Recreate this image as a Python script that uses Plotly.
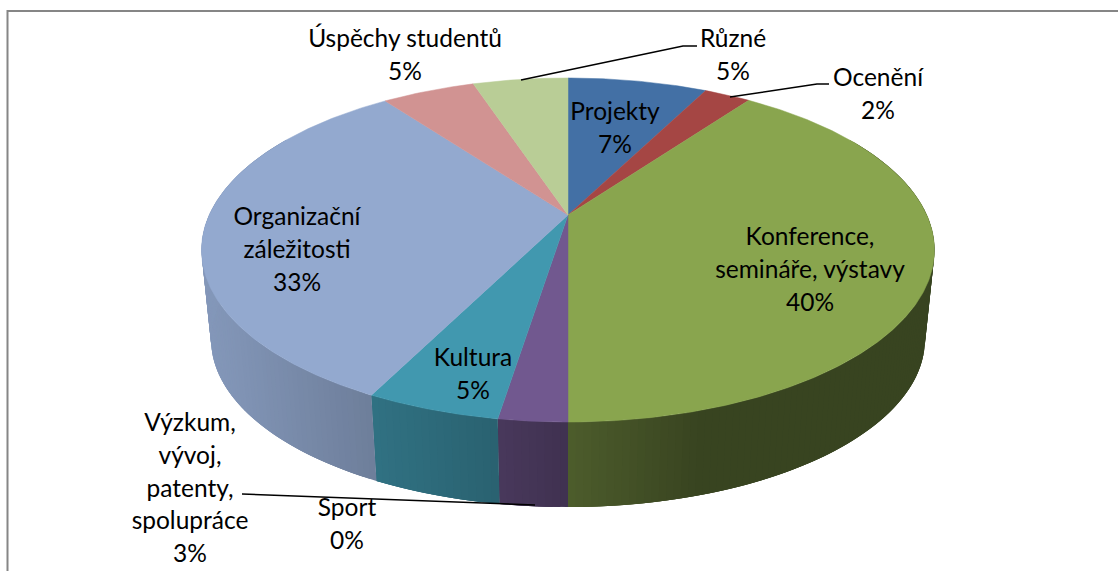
import numpy as np
import plotly.graph_objects as go

# --- data -----------------------------------------------------------------
categories = ["Projekty", "Ocenění", "Konference, semináře, výstavy", "Sport",
              "Výzkum, vývoj, patenty, spolupráce", "Kultura",
              "Organizační záležitosti", "Úspěchy studentů", "Různé"]
shares = [7.49, 2.49, 40.02, 0.0, 2.5, 4.9, 32.5, 5.0, 5.1]
percent_labels = ["7%", "2%", "40%", "0%", "3%", "5%", "33%", "5%", "5%"]
top_colors = ["#4370A5", "#A54644", "#89A54E", "#71588F", "#71588F", "#4198AF",
              "#93A9CF", "#D19392", "#B9CD96"]
# slice 3 (Sport) has no area; Výzkum is the purple one
label_lines = [["Projekty"], ["Ocenění"], ["Konference,", "semináře, výstavy"], ["Sport"],
               ["Výzkum,", "vývoj,", "patenty,", "spolupráce"], ["Kultura"],
               ["Organizační", "záležitosti"], ["Úspěchy studentů"], ["Různé"]]
label_x = [615, 878, 810, 347, 190, 473, 297, 405, 733]
label_y = [114, 80, 239, 510, 425, 360, 219, 41, 41]
LINE_GAP = 32.7

leader_x = [[697, 683, 521], [829, 817, 730], [242, 535]]
leader_y = [[46, 46, 80], [84, 84, 97], [494, 505]]

# --- pie projection (perspective disc seen from above) ---------------------
CX, CY, A, B, K = 568.0, 215.0, 358.8, 164.9, 0.2035
DEPTH_SCALE, DEPTH_SHIFT = 0.974, 96.0
shade_x = [200, 240, 370, 499, 568, 700, 940]
shade_f = [0.90, 0.87, 0.75, 0.64, 0.56, 0.41, 0.41]


def top(theta):
    w = 1 + K * np.cos(theta)
    return CX + A * np.sin(theta) / w, CY - B * np.cos(theta) / w


def bottom(theta):
    x, y = top(theta)
    return CX + DEPTH_SCALE * (x - CX), DEPTH_SCALE * y + DEPTH_SHIFT


def hex_rgb(h):
    return [int(h[i:i + 2], 16) for i in (1, 3, 5)]


edges = np.cumsum([0] + shares) / 100 * 2 * np.pi
fig = go.Figure()


def poly(xs, ys, color, width=0.0):
    fig.add_trace(go.Scatter(x=list(xs), y=list(ys), mode="lines", fill="toself",
                             fillcolor=color, line=dict(color=color, width=width),
                             hoverinfo="skip", showlegend=False))


# side walls: each strip overlaps the next ones so no seams show
for i, (a0, a1) in enumerate(zip(edges[:-1], edges[1:])):
    if a1 - a0 <= 0:
        continue
    lo, hi = max(a0, np.radians(60)), min(a1, np.radians(300))
    if hi <= lo:
        continue
    n = max(2, int((hi - lo) / np.radians(1.0)))
    t = np.linspace(lo, hi, n + 1)
    base = hex_rgb(top_colors[i])
    for j in range(n):
        t0, t1 = t[j], t[j + 1]
        t_end = t[min(j + 3, n)]
        sub = np.linspace(t0, t_end, 4)
        xa, ya = top(sub)
        xb, yb = bottom(sub[::-1])
        xm = (top(t0)[0] + top(t1)[0] + bottom(t0)[0] + bottom(t1)[0]) / 4
        f = np.interp(xm, shade_x, shade_f)
        c = "rgb(%d,%d,%d)" % tuple(round(v * f) for v in base)
        poly(np.r_[xa, xb, xa[0]], np.r_[ya, yb, ya[0]], c)

# top faces
for i, (a0, a1) in enumerate(zip(edges[:-1], edges[1:])):
    if a1 - a0 <= 0:
        continue
    t = np.linspace(a0, a1, max(3, int((a1 - a0) / np.radians(0.5))))
    x, y = top(t)
    poly(np.r_[CX, x, CX], np.r_[CY, y, CY], top_colors[i], width=0.5)

# leader lines
for lx, ly in zip(leader_x, leader_y):
    fig.add_trace(go.Scatter(x=lx, y=ly, mode="lines", line=dict(color="black", width=1.5),
                             hoverinfo="skip", showlegend=False))

# labels, one text mark per line so the line spacing matches
tx, ty, tt = [], [], []
for lines, pct, x0, y0 in zip(label_lines, percent_labels, label_x, label_y):
    for j, s in enumerate(lines + [pct]):
        tx.append(x0)
        ty.append(y0 + j * LINE_GAP)
        tt.append(s)
fig.add_trace(go.Scatter(x=tx, y=ty, text=tt, mode="text", textposition="middle center",
                         textfont=dict(family="Lato", size=24.5, color="black"),
                         hoverinfo="skip", showlegend=False))

# chart frame
fig.add_trace(go.Scatter(x=[7.5, 7.5, 1118], y=[571, 11, 11], mode="lines",
                         line=dict(color="#868686", width=2),
                         hoverinfo="skip", showlegend=False))

fig.update_xaxes(range=[0, 1118], visible=False)
fig.update_yaxes(range=[571, 0], visible=False)
fig.update_layout(width=1118, height=571, margin=dict(l=0, r=0, t=0, b=0),
                  plot_bgcolor="white", paper_bgcolor="white", showlegend=False)
fig.write_html("out.html", config={"displayModeBar": False},
               post_script="document.body.style.margin='0';document.body.style.overflow='hidden';")
